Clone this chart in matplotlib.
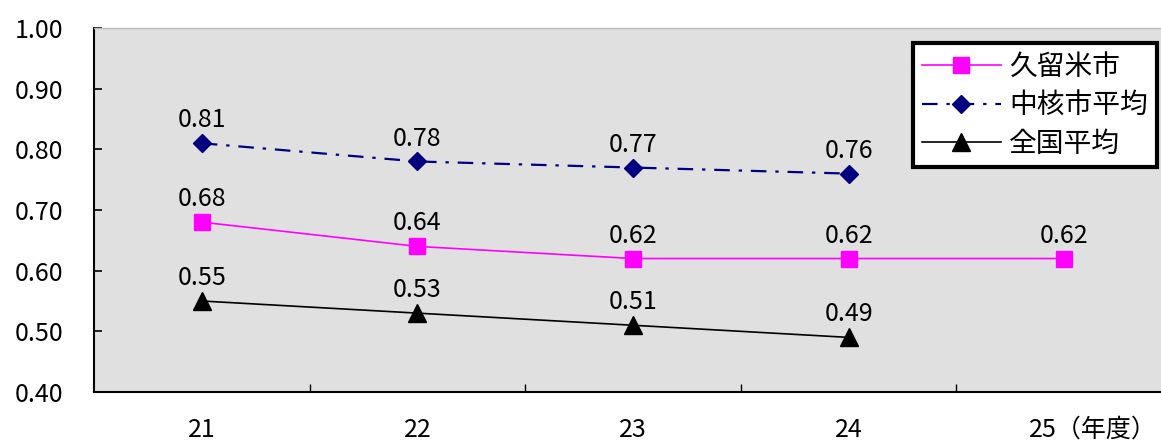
import matplotlib
matplotlib.use("Agg")
import matplotlib.pyplot as plt
from matplotlib.transforms import ScaledTranslation
from matplotlib.ticker import FixedLocator

plt.rcParams['font.family'] = ['Noto Sans CJK JP', 'DejaVu Sans']

years = ["21", "22", "23", "24", "25（年度）"]
kurume = [0.68, 0.64, 0.62, 0.62, 0.62]
chukaku = [0.81, 0.78, 0.77, 0.76]
zenkoku = [0.55, 0.53, 0.51, 0.49]
series_names = ["久留米市", "中核市平均", "全国平均"]

W, H = 1161, 443
fig = plt.figure(figsize=(W / 100, H / 100), dpi=100)
ax = fig.add_axes([94 / W, 1 - 392 / H, (1172 - 94) / W, (392 - 28) / H])
ax.set_facecolor('#E0E0E0')

x_k = list(range(len(kurume)))
x_c = list(range(len(chukaku)))
x_z = list(range(len(zenkoku)))

ax.plot(x_k, kurume, color='#FF00FF', lw=1.2, marker='s', ms=12,
        mfc='#FF00FF', mec='#FF00FF', label=series_names[0], zorder=3)
ax.plot(x_c, chukaku, color='#000080', lw=1.6, dashes=(7, 4, 1.5, 4), marker='D', ms=9.5,
        mfc='#000080', mec='#000080', label=series_names[1], zorder=3)
ax.plot(x_z, zenkoku, color='black', lw=1.2, marker='^', ms=13,
        mfc='black', mec='black', label=series_names[2], zorder=3)

for xs, ys in ((x_k, kurume), (x_c, chukaku), (x_z, zenkoku)):
    for xv, yv in zip(xs, ys):
        ax.annotate(f"{yv:.2f}", (xv, yv), xytext=(0, 16.5), textcoords='offset points',
                    ha='center', va='center', fontsize=18, color='black', zorder=4)

ax.set_xlim(-0.5, 4.5)
ax.set_ylim(0.40, 1.00)
ax.set_yticks([0.40, 0.50, 0.60, 0.70, 0.80, 0.90, 1.00])
ax.set_yticklabels([f"{v:.2f}" for v in [0.40, 0.50, 0.60, 0.70, 0.80, 0.90, 1.00]])
ax.tick_params(axis='y', direction='in', length=6, width=1.2, pad=22, labelsize=18)

ax.xaxis.set_major_locator(FixedLocator([0.5, 1.5, 2.5, 3.5]))
ax.set_xticklabels([])
ax.tick_params(axis='x', which='major', direction='in', length=6, width=1.0)
ax.set_xticks(range(len(years)), minor=True)
ax.set_xticklabels(years, minor=True)
ax.tick_params(axis='x', which='minor', length=0, pad=18, labelsize=18)

lbls = ax.xaxis.get_minorticklabels()
lbls[-1].set_transform(lbls[-1].get_transform() + ScaledTranslation(0.29, 0, fig.dpi_scale_trans))

for s in ('left', 'bottom'):
    ax.spines[s].set_linewidth(1.5)
    ax.spines[s].set_color('black')
ax.spines['top'].set_color('#BBBBBB')
ax.spines['top'].set_linewidth(1.0)
ax.spines['right'].set_visible(False)

leg = fig.legend(loc='upper left', bbox_to_anchor=(913 / W, 1 - 43 / H),
                 fontsize=20, handlelength=2.85, handletextpad=0.3, labelspacing=0.3,
                 borderpad=0.32, borderaxespad=0, frameon=True, fancybox=False)
leg.get_frame().set_edgecolor('black')
leg.get_frame().set_linewidth(3)
leg.get_frame().set_facecolor('white')
leg.get_frame().set_alpha(1)

fig.savefig("out.png", dpi=100)
